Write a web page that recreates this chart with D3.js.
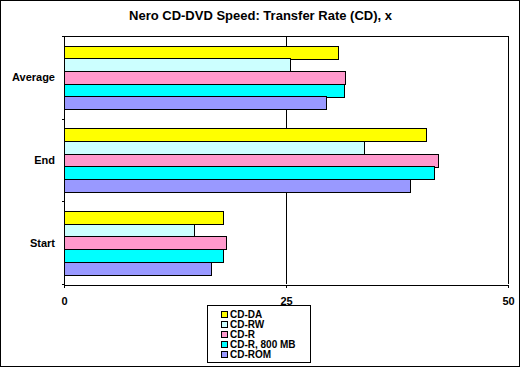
<!DOCTYPE html>
<html><head><meta charset="utf-8">
<script src="https://cdn.jsdelivr.net/npm/d3@7"></script>
<style>
body{margin:0;background:#fff;}
text{font-family:"Liberation Sans",Arial,sans-serif;font-weight:bold;fill:#000;}
</style></head><body>
<svg id="c" width="521" height="368"></svg>
<script>
const categories = ["Average", "End", "Start"];
const seriesNames = ["CD-DA", "CD-RW", "CD-R", "CD-R, 800 MB", "CD-ROM"];
const seriesColors = ["#FFFF00", "#CCFFFF", "#FF99CC", "#00FFFF", "#9999FF"];
const cdDA   = [30.9, 40.8, 17.9];
const cdRW   = [25.5, 33.8, 14.6];
const cdR    = [31.7, 42.1, 18.2];
const cdR800 = [31.5, 41.7, 17.9];
const cdROM  = [29.5, 39.0, 16.6];
const seriesValues = [cdDA, cdRW, cdR, cdR800, cdROM];
const xTicks = [0, 25, 50];
const title = "Nero CD-DVD Speed: Transfer Rate (CD), x";

const svg = d3.select("#c");
svg.append("rect").attr("x",0.5).attr("y",0.5).attr("width",519).attr("height",366)
  .attr("fill","#fff").attr("stroke","#000").attr("stroke-width",1);

svg.append("text").attr("x",260.5).attr("y",20).attr("text-anchor","middle")
  .attr("font-size","13px").text(title);

const L=64, R=508, T=36, B=284;
const x = d3.scaleLinear().domain([0,50]).range([L,R]);
const y = d3.scaleBand().domain(categories).range([T,B]).padding(0);
const yi = d3.scaleBand().domain(seriesNames).range([0,y.bandwidth()]).paddingInner(0).paddingOuter(0.75);

const g = svg.append("g").attr("shape-rendering","crispEdges");
g.append("line").attr("x1",L).attr("x2",R+0.5).attr("y1",T+0.5).attr("y2",T+0.5).attr("stroke","#000");
g.append("line").attr("x1",R+0.5).attr("x2",R+0.5).attr("y1",T).attr("y2",B).attr("stroke","#000");
xTicks.filter(t=>t>0 && t<50).forEach(t=>{
  g.append("line").attr("x1",Math.round(x(t))+0.5).attr("x2",Math.round(x(t))+0.5)
   .attr("y1",T).attr("y2",B).attr("stroke","#000");
});

seriesNames.forEach((s,si)=>{
  g.selectAll(null).data(categories).enter().append("rect")
    .attr("x",x(0)+0.5)
    .attr("y",c=>Math.round(y(c)+yi(s))+0.5)
    .attr("width",(c,ci)=>Math.round(x(seriesValues[si][ci])-x(0)))
    .attr("height",Math.round(yi.bandwidth()))
    .attr("fill",seriesColors[si]).attr("stroke","#000").attr("stroke-width",1);
});

const xAxis = d3.axisBottom(x).tickValues(xTicks).tickSize(3).tickPadding(10).tickFormat(d3.format("d"));
const xa = svg.append("g").attr("transform",`translate(0,${B+0.5})`).call(xAxis);
xa.select(".domain").attr("stroke","#000").attr("shape-rendering","crispEdges");
xa.selectAll(".tick line").attr("stroke","#000").attr("shape-rendering","crispEdges");
xa.selectAll("text").attr("font-size","11px").attr("font-family","Liberation Sans, Arial, sans-serif").attr("font-weight","bold").attr("fill","#000");

const ya = svg.append("g").attr("transform",`translate(${L+0.5},0)`);
ya.append("line").attr("x1",0).attr("x2",0).attr("y1",T).attr("y2",B+3).attr("stroke","#000").attr("shape-rendering","crispEdges");
const yTickPos = categories.map(c=>y(c)).concat([B]);
ya.selectAll(null).data(yTickPos).enter().append("line")
  .attr("x1",-3).attr("x2",0).attr("y1",d=>Math.round(d)+0.5).attr("y2",d=>Math.round(d)+0.5)
  .attr("stroke","#000").attr("shape-rendering","crispEdges");
ya.selectAll(null).data(categories).enter().append("text")
  .attr("x",-9.5).attr("y",c=>y(c)+y.bandwidth()/2+4)
  .attr("text-anchor","end").attr("font-size","11px").text(c=>c);

const lg = svg.append("g");
lg.append("rect").attr("x",207.5).attr("y",305.5).attr("width",103).attr("height",57)
  .attr("fill","#fff").attr("stroke","#000").attr("shape-rendering","crispEdges");
seriesNames.forEach((s,i)=>{
  const cy = 314 + i*10;
  lg.append("rect").attr("x",221.5).attr("y",Math.round(cy-3)+0.5).attr("width",6).attr("height",6)
    .attr("fill",seriesColors[i]).attr("stroke","#000").attr("shape-rendering","crispEdges");
  lg.append("text").attr("x",230).attr("y",cy+3.5).attr("font-size","10px").text(s);
});
</script>
</body></html>
